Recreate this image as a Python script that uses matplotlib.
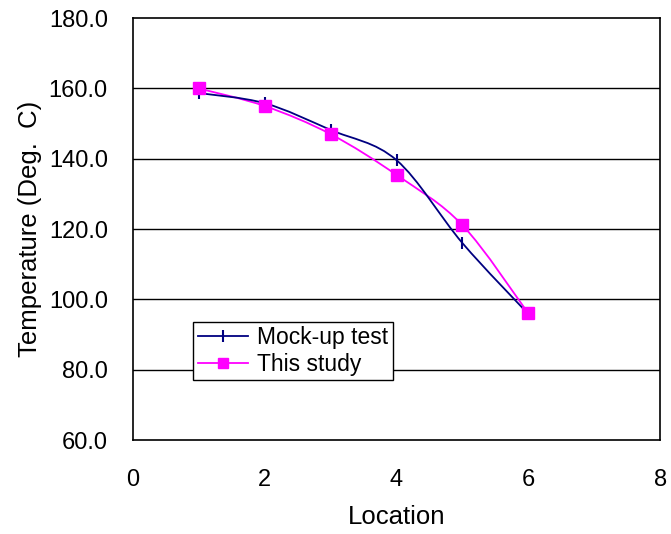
import matplotlib.pyplot as plt
from matplotlib.path import Path
from matplotlib.patches import PathPatch
from matplotlib.lines import Line2D

plt.rcParams['font.family'] = ['Liberation Sans', 'DejaVu Sans']

location = [1, 2, 3, 4, 5, 6]
mockup = [158.7, 155.8, 148.2, 139.6, 116.0, 95.8]
study = [160.0, 155.0, 147.0, 135.4, 121.1, 96.0]

navy = '#000080'
magenta = '#ff00ff'


def smooth_path(xs, ys):
    # Excel-like smoothed line: cubic Bezier through points
    pts = list(zip(xs, ys))
    verts = [pts[0]]
    codes = [Path.MOVETO]
    n = len(pts)
    for i in range(n - 1):
        p0 = pts[i - 1] if i > 0 else pts[i]
        p1 = pts[i]
        p2 = pts[i + 1]
        p3 = pts[i + 2] if i + 2 < n else pts[i + 1]
        c1 = (p1[0] + (p2[0] - p0[0]) / 6, p1[1] + (p2[1] - p0[1]) / 6)
        c2 = (p2[0] - (p3[0] - p1[0]) / 6, p2[1] - (p3[1] - p1[1]) / 6)
        verts += [c1, c2, p2]
        codes += [Path.CURVE4] * 3
    return Path(verts, codes)


fig = plt.figure(figsize=(6.71, 5.34), dpi=100)
ax = fig.add_axes([0.198, 0.176, 0.786, 0.790])

for y in range(80, 180, 20):
    ax.axhline(y, color='black', lw=1, zorder=1)

ax.add_patch(PathPatch(smooth_path(location, mockup), fill=False, edgecolor=navy, lw=1.3, zorder=3))
ax.add_patch(PathPatch(smooth_path(location, study), fill=False, edgecolor=magenta, lw=1.3, zorder=2))
ax.plot(location, mockup, ls='none', marker='|', ms=9, mew=1.5, color=navy, zorder=4)
ax.plot(location, study, ls='none', marker='s', ms=8, color=magenta, zorder=5)

ax.set_xlim(0, 8)
ax.set_ylim(60, 180)
ax.set_xticks(range(0, 9, 2))
ax.set_yticks(range(60, 181, 20))
ax.set_yticklabels([f'{v:.1f}' for v in range(60, 181, 20)])
ax.tick_params(length=0, labelsize=17)
ax.tick_params(axis='y', pad=18)
ax.tick_params(axis='x', pad=21)
for s in ax.spines.values():
    s.set_color('black')
    s.set_linewidth(1.2)

ax.set_xlabel('Location', fontsize=18.5, labelpad=10)
ax.set_ylabel('Temperature (Deg.  C)', fontsize=18.5, labelpad=5)

handles = [
    Line2D([], [], color=navy, lw=1.3, marker='|', ms=9, mew=1.5),
    Line2D([], [], color=magenta, lw=1.3, marker='s', ms=7),
]
leg = ax.legend(handles, ['Mock-up test', 'This study'], loc='lower left',
                bbox_to_anchor=(0.114, 0.142), fontsize=16.5, frameon=True,
                fancybox=False, borderpad=0.2, handlelength=2.2,
                handletextpad=0.4, labelspacing=0.15, borderaxespad=0)
leg.get_frame().set_edgecolor('black')
leg.get_frame().set_linewidth(1)
leg.get_frame().set_alpha(1)

plt.savefig('out.png', dpi=100)
